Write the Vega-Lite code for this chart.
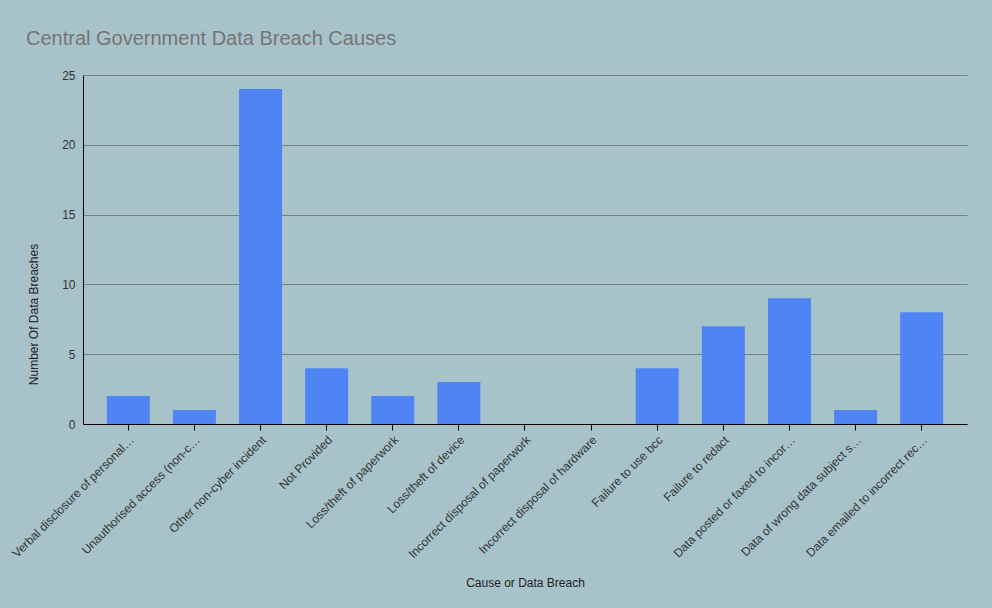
{
  "$schema": "https://vega.github.io/schema/vega-lite/v6.json",
  "autosize": "none",
  "width": 884,
  "height": 349,
  "padding": {"left": 83, "top": 75, "right": 25, "bottom": 184},
  "background": "#a7c3c9",
  "config": {
    "font": "Liberation Sans",
    "view": {"stroke": null},
    "axis": {"labelFont": "Liberation Sans", "titleFont": "Liberation Sans"}
  },
  "title": {
    "text": "Central Government Data Breach Causes",
    "anchor": "start",
    "frame": "group",
    "dx": -57,
    "offset": 20,
    "fontSize": 20,
    "font": "Liberation Sans",
    "fontWeight": "normal",
    "color": "#757575"
  },
  "data": {
    "values": [
      {"cause": "Verbal disclosure of personal…", "count": 2},
      {"cause": "Unauthorised access (non-c…", "count": 1},
      {"cause": "Other non-cyber incident", "count": 24},
      {"cause": "Not Provided", "count": 4},
      {"cause": "Loss/theft of paperwork", "count": 2},
      {"cause": "Loss/theft of device", "count": 3},
      {"cause": "Incorrect disposal of paperwork", "count": 0},
      {"cause": "Incorrect disposal of hardware", "count": 0},
      {"cause": "Failure to use bcc", "count": 4},
      {"cause": "Failure to redact", "count": 7},
      {"cause": "Data posted or faxed to incor…", "count": 9},
      {"cause": "Data of wrong data subject s…", "count": 1},
      {"cause": "Data emailed to incorrect rec…", "count": 8}
    ]
  },
  "mark": {"type": "bar", "color": "#4f84f5"},
  "encoding": {
    "x": {
      "field": "cause",
      "type": "nominal",
      "sort": null,
      "scale": {"paddingInner": 0.35, "paddingOuter": 0.36},
      "axis": {
        "title": "Cause or Data Breach",
        "titleFontSize": 12,
        "titleFontWeight": "normal",
        "titleColor": "#222222",
        "titleY": 158,
        "titleBaseline": "middle",
        "labelAngle": -45,
        "labelFontSize": 12,
        "labelColor": "#333333",
        "labelLimit": 300,
        "labelPadding": 4,
        "domainColor": "#000000",
        "tickColor": "#000000",
        "tickSize": 6,
        "grid": false
      }
    },
    "y": {
      "field": "count",
      "type": "quantitative",
      "scale": {"domain": [0, 25], "nice": false},
      "axis": {
        "title": "Number Of Data Breaches",
        "titleFontSize": 12,
        "titleFontWeight": "normal",
        "titleColor": "#222222",
        "titleX": -50,
        "titleY": 239,
        "titleAlign": "center",
        "titleBaseline": "middle",
        "titleAngle": -90,
        "values": [0, 5, 10, 15, 20, 25],
        "labelFontSize": 12,
        "labelColor": "#333333",
        "labelPadding": 8,
        "ticks": false,
        "domainColor": "#000000",
        "gridColor": "#6f8284",
        "gridOpacity": 1
      }
    }
  }
}
